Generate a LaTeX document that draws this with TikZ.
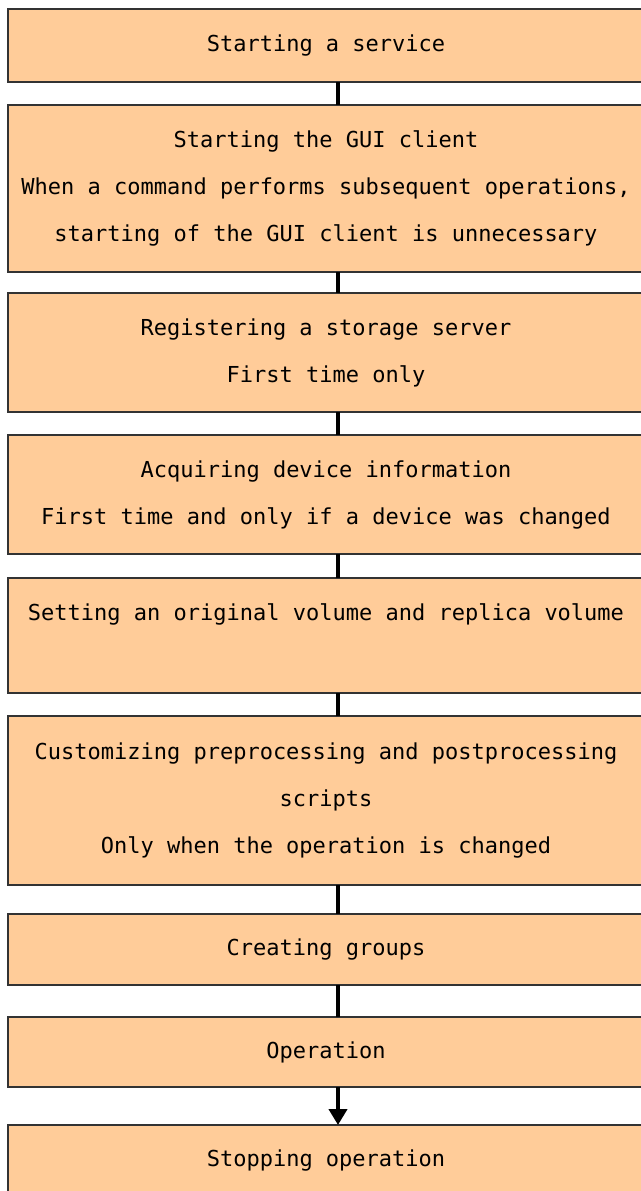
\documentclass[tikz,border=0pt]{standalone}
\usepackage{fontspec}
\setmonofont{DejaVu Sans Mono}
\usepackage{xcolor}
\definecolor{stepfill}{HTML}{FFCC99}
\definecolor{stepline}{HTML}{333333}
\usetikzlibrary{positioning,arrows.meta}

\begin{document}
\begin{tikzpicture}[x=1pt,y=1pt,
    stepbox/.style={rectangle,draw=stepline,fill=stepfill,line width=1.5pt,
                    minimum width=636pt,inner sep=0pt,outer sep=0pt,align=center,
                    font=\ttfamily\fontsize{22}{47}\selectfont},
    link/.style={line width=4.5pt,black}]
  \useasboundingbox (0,0) rectangle (640,-1191);

  \node[stepbox,minimum height=73pt,anchor=north west] (start) at (8,-9) {Starting a service};
  \node[stepbox,minimum height=167pt,below=23pt of start] (gui) {Starting the GUI client\\
    When a command performs subsequent operations,\\
    starting of the GUI client is unnecessary};
  \node[stepbox,minimum height=119pt,below=21pt of gui] (reg) {Registering a storage server\\
    First time only};
  \node[stepbox,minimum height=119pt,below=23pt of reg] (dev) {Acquiring device information\\
    First time and only if a device was changed};
  \node[stepbox,minimum height=115pt,below=24pt of dev] (vol) {Setting an original volume and replica volume\\
    \mbox{}};
  \node[stepbox,minimum height=169pt,below=23pt of vol] (scr) {Customizing preprocessing and postprocessing\\
    scripts\\
    Only when the operation is changed};
  \node[stepbox,minimum height=71pt,below=29pt of scr] (grp) {Creating groups};
  \node[stepbox,minimum height=70pt,below=32pt of grp] (oper) {Operation};
  \node[stepbox,minimum height=70pt,below=38pt of oper] (stop) {Stopping operation};

  % connector axis
  \coordinate (axis) at (338,0);
  \draw[link] (start.south -| axis) -- (gui.north -| axis);
  \draw[link] (gui.south -| axis) -- (reg.north -| axis);
  \draw[link] (reg.south -| axis) -- (dev.north -| axis);
  \draw[link] (dev.south -| axis) -- (vol.north -| axis);
  \draw[link] (vol.south -| axis) -- (scr.north -| axis);
  \draw[link] (scr.south -| axis) -- (grp.north -| axis);
  \draw[link] (grp.south -| axis) -- (oper.north -| axis);
  \draw[link,-{Triangle[width=18pt,length=16pt]}] (oper.south -| axis) -- (stop.north -| axis);
\end{tikzpicture}
\end{document}
